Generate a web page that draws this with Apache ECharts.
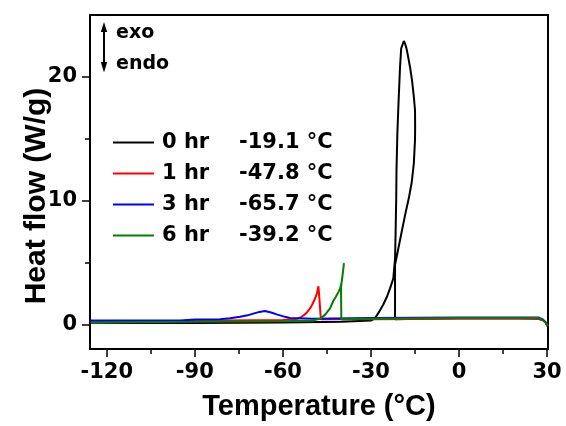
<!DOCTYPE html>
<html><head><meta charset="utf-8">
<script src="https://cdn.jsdelivr.net/npm/echarts/dist/echarts.min.js"></script>
<style>html,body{margin:0;padding:0;background:#fff}#c{width:566px;height:426px}</style>
</head><body><div id="c"></div>
<script>
// ---- data (temperature in °C, heat flow in W/g) ----
const names = ['0 hr', '1 hr', '3 hr', '6 hr'];
const peakTemps = ['-19.1', '-47.8', '-65.7', '-39.2'];
const colors = ['#000000', '#ff0000', '#0000ff', '#008000'];

const t0 = [30.2, 29.5, 28.5, 27, 20, 0, -15, -21.8, -21.8, -21.2, -20.7, -19.6, -18.4, -17.1, -16.1, -15.4, -15.0, -14.95, -15.0, -15.4, -16.0, -16.7, -17.4, -17.9, -18.4, -18.8, -19.1, -19.4, -19.7, -20.1, -20.6, -21.0, -21.3, -21.4, -21.6, -21.8, -22.4, -23.5, -24.6, -25.8, -27.5, -28.6, -30, -40, -60, -90, -110, -125.5];
const hf0 = [-0.15, 0.15, 0.35, 0.45, 0.5, 0.5, 0.45, 0.4, 4.8, 5.5, 6.1, 7.4, 8.8, 10.2, 11.5, 13.0, 14.9, 16.0, 17.3, 18.4, 19.7, 20.8, 21.7, 22.3, 22.7, 22.9, 22.95, 22.8, 22.3, 20.8, 18.0, 15.5, 12.5, 10.1, 7.5, 5.3, 3.7, 2.9, 2.2, 1.6, 0.9, 0.5, 0.3, 0.2, 0.15, 0.1, 0.1, 0.12];

const t1 = [30.2, 29.5, 28.5, 27, 0, -30, -47.0, -47.2, -47.5, -47.9, -48.4, -49.0, -50.0, -50.7, -52.0, -53.6, -55, -60, -80, -100, -125.5];
const hf1 = [-0.15, 0.15, 0.35, 0.45, 0.45, 0.4, 0.4, 0.8, 1.9, 3.07, 2.5, 2.1, 1.6, 1.3, 0.9, 0.6, 0.45, 0.35, 0.3, 0.25, 0.2];

const t3 = [30.2, 29.5, 28.5, 27, 0, -30, -50, -57.6, -59.3, -62.1, -64, -66.1, -68, -70.1, -72, -74.6, -78, -81.4, -90, -95, -110, -125.5];
const hf3 = [-0.15, 0.15, 0.4, 0.55, 0.55, 0.5, 0.45, 0.5, 0.6, 0.8, 0.95, 1.07, 1.0, 0.86, 0.72, 0.6, 0.48, 0.4, 0.38, 0.3, 0.3, 0.3];

const t6 = [30.2, 29.5, 28.5, 27, 0, -30, -40.1, -40.2, -39.8, -39.5, -39.2, -39.5, -40.0, -40.5, -41.1, -42.0, -42.8, -43.9, -45.5, -47.3, -50, -60, -90, -125.5];
const hf6 = [-0.15, 0.15, 0.35, 0.5, 0.5, 0.45, 0.4, 3.0, 3.7, 4.3, 4.94, 4.3, 3.4, 2.9, 2.6, 2.2, 1.9, 1.3, 0.8, 0.45, 0.3, 0.25, 0.2, 0.15];

const xMajor = [-120, -90, -60, -30, 0, 30];
const xMinor = [-105, -75, -45, -15, 15];
const yMajor = [0, 10, 20];
const yMinor = [5, 15];

// ---- build ----
const temps = [t0, t1, t3, t6];
const flows = [hf0, hf1, hf3, hf6];
const zip = (a, b) => a.map((v, i) => [v, b[i]]);

const tickFont = {fontFamily: 'DejaVu Sans', fontWeight: 'bold', fontSize: 21, color: '#000'};
const xr = {min: -125.7, max: 30.3};
const yr = {min: -2, max: 25};

const chart = echarts.init(document.getElementById('c'), null, {renderer: 'canvas'});
chart.setOption({
  animation: false,
  backgroundColor: '#fff',
  grid: {left: 90, right: 18, top: 15, bottom: 75, show: true, borderColor: '#000', borderWidth: 2, backgroundColor: 'transparent', containLabel: false},
  xAxis: [{
    type: 'value', min: xr.min, max: xr.max, position: 'bottom',
    axisLine: {show: true, onZero: false, lineStyle: {color: '#000', width: 2}},
    axisTick: {show: true, inside: false, length: 8, customValues: xMajor, lineStyle: {color: '#000', width: 1.5}},
    axisLabel: Object.assign({show: true, margin: 13, customValues: xMajor}, tickFont),
    splitLine: {show: false},
    name: 'Temperature (°C)', nameLocation: 'middle', nameGap: 43,
    nameTextStyle: {fontFamily: 'Liberation Sans', fontWeight: 'bold', fontSize: 29, color: '#000'}
  }, {
    type: 'value', min: xr.min, max: xr.max, position: 'bottom',
    axisLine: {show: false, onZero: false},
    axisTick: {show: true, inside: false, length: 5, customValues: xMinor, lineStyle: {color: '#000', width: 1.5}},
    axisLabel: {show: false, customValues: xMinor},
    splitLine: {show: false}
  }],
  yAxis: [{
    type: 'value', min: yr.min, max: yr.max, position: 'left',
    axisLine: {show: true, onZero: false, lineStyle: {color: '#000', width: 2}},
    axisTick: {show: true, inside: false, length: 8, customValues: yMajor, lineStyle: {color: '#000', width: 1.5}},
    axisLabel: Object.assign({show: true, margin: 13, customValues: yMajor}, tickFont),
    splitLine: {show: false}
  }, {
    type: 'value', min: yr.min, max: yr.max, position: 'left',
    axisLine: {show: false, onZero: false},
    axisTick: {show: true, inside: false, length: 5, customValues: yMinor, lineStyle: {color: '#000', width: 1.5}},
    axisLabel: {show: false, customValues: yMinor},
    splitLine: {show: false}
  }],
  legend: {
    orient: 'vertical', left: 113, top: 132, padding: 0,
    icon: 'rect', itemWidth: 41, itemHeight: 2, itemGap: 10,
    selectedMode: false,
    data: names,
    formatter: function (name) {
      const i = names.indexOf(name);
      return '{a|' + name + '}{b|' + peakTemps[i] + ' °C}';
    },
    textStyle: {
      fontFamily: 'DejaVu Sans', fontWeight: 'bold', fontSize: 21, color: '#000',
      rich: {
        a: {fontFamily: 'DejaVu Sans', fontWeight: 'bold', fontSize: 21, color: '#000', width: 77, padding: [0, 0, 0, 3], lineHeight: 22},
        b: {fontFamily: 'DejaVu Sans', fontWeight: 'bold', fontSize: 21, color: '#000', lineHeight: 22}
      }
    }
  },
  series: names.map((n, i) => ({
    name: n, type: 'line', xAxisIndex: 0, yAxisIndex: 0,
    data: zip(temps[i], flows[i]),
    symbol: 'none', smooth: false,
    lineStyle: {color: colors[i], width: 2},
    itemStyle: {color: colors[i]}
  })),
  graphic: [
    {type: 'line', shape: {x1: 104, y1: 28, x2: 104, y2: 67}, style: {stroke: '#000', lineWidth: 2}},
    {type: 'polygon', shape: {points: [[104, 22], [100.8, 32], [107.2, 32]]}, style: {fill: '#000'}},
    {type: 'polygon', shape: {points: [[104, 72.5], [100.8, 62], [107.2, 62]]}, style: {fill: '#000'}},
    {type: 'text', x: 116, y: 33, style: {text: 'exo', fontFamily: 'DejaVu Sans', fontWeight: 'bold', fontSize: 19, fill: '#000', align: 'left', verticalAlign: 'middle'}},
    {type: 'text', x: 116, y: 64, style: {text: 'endo', fontFamily: 'DejaVu Sans', fontWeight: 'bold', fontSize: 19, fill: '#000', align: 'left', verticalAlign: 'middle'}},
    {type: 'text', x: 37, y: 196, rotation: Math.PI / 2, style: {text: 'Heat flow (W/g)', fontFamily: 'Liberation Sans', fontWeight: 'bold', fontSize: 30, fill: '#000', align: 'center', verticalAlign: 'middle'}}
  ]
});
</script></body></html>
